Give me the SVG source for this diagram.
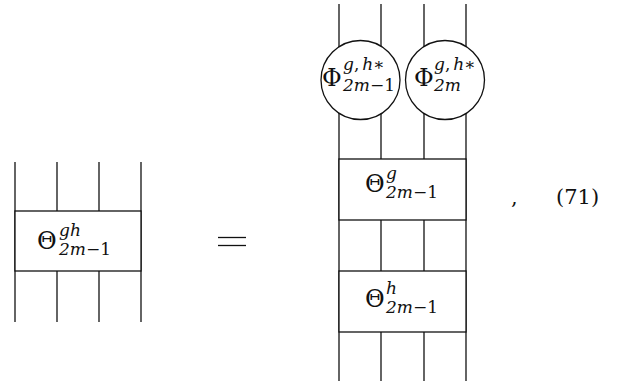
<svg xmlns="http://www.w3.org/2000/svg" width="626" height="384" viewBox="0 0 626 384">
<style>
.ln{stroke:#111;stroke-width:1.3;fill:none}
.bx{stroke:#111;stroke-width:1.3;fill:#fff}
.t{font-family:"DejaVu Serif","Liberation Serif",serif;fill:#111}
.big{font-size:24px}
.sc{font-size:17px}
.it{font-style:italic}
</style>
<rect width="626" height="384" fill="#fff"/>
<g id="connectors">
<line class="ln" x1="15" y1="162" x2="15" y2="322"/>
<line class="ln" x1="57" y1="162" x2="57" y2="322"/>
<line class="ln" x1="99" y1="162" x2="99" y2="322"/>
<line class="ln" x1="141" y1="162" x2="141" y2="322"/>
<line class="ln" x1="339" y1="4" x2="339" y2="381"/>
<line class="ln" x1="381" y1="4" x2="381" y2="381"/>
<line class="ln" x1="424" y1="4" x2="424" y2="381"/>
<line class="ln" x1="466" y1="4" x2="466" y2="381"/>
</g>
<g id="theta-gh">
<rect class="bx" x="15" y="211" width="126" height="60"/>
<text class="t big" x="37" y="249">Θ</text>
<text class="t sc it" x="59" y="236">gh</text>
<text class="t sc" x="59" y="255"><tspan class="it">2m</tspan>−1</text>
</g>
<g id="equals">
<line class="ln" x1="218" y1="237.5" x2="246" y2="237.5"/>
<line class="ln" x1="218" y1="245.5" x2="246" y2="245.5"/>
</g>
<g id="phi1">
<circle class="bx" cx="360.5" cy="80" r="39.5"/>
<text class="t big" x="322" y="86">Φ</text>
<text class="t sc" x="343" y="70"><tspan class="it">g</tspan>,<tspan class="it" dx="3">h</tspan>∗</text>
<text class="t sc" x="343" y="91"><tspan class="it">2m</tspan>−1</text>
</g>
<g id="phi2">
<circle class="bx" cx="445" cy="80" r="39.5"/>
<text class="t big" x="414" y="86">Φ</text>
<text class="t sc" x="434" y="70"><tspan class="it">g</tspan>,<tspan class="it" dx="3">h</tspan>∗</text>
<text class="t sc" x="434" y="91"><tspan class="it">2m</tspan></text>
</g>
<g id="theta-g">
<rect class="bx" x="339" y="159" width="127" height="61"/>
<text class="t big" x="365" y="192">Θ</text>
<text class="t sc it" x="386" y="179">g</text>
<text class="t sc" x="386" y="198"><tspan class="it">2m</tspan>−1</text>
</g>
<g id="theta-h">
<rect class="bx" x="339" y="271" width="127" height="61"/>
<text class="t big" x="365" y="307">Θ</text>
<text class="t sc it" x="386" y="294">h</text>
<text class="t sc" x="386" y="313"><tspan class="it">2m</tspan>−1</text>
</g>
<g id="label">
<text class="t" style="font-size:21px" x="511" y="204">,</text>
<text class="t" style="font-size:21px" x="556" y="204">(71)</text>
</g>
</svg>
